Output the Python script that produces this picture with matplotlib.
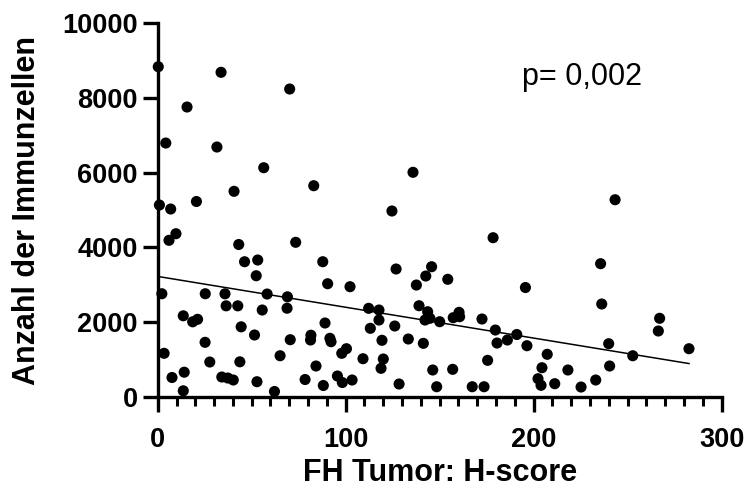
import numpy as np
import matplotlib
matplotlib.use("Agg")
import matplotlib.pyplot as plt
from matplotlib.ticker import MultipleLocator

plt.rcParams['font.family'] = ['Liberation Sans', 'DejaVu Sans']

h_score = [0.3, 33.7, 70.2, 15.6, 4.3, 31.5, 56.4, 83.0, 40.6, 20.6, 0.9, 6.9,
           135.8, 124.6, 178.4, 243.3, 6.0, 9.7, 43.1, 73.4, 46.2, 53.2, 52.4, 87.8,
           90.4, 2.2, 25.3, 35.8, 58.2, 69.0, 36.4, 42.6, 55.6, 68.8, 13.6, 18.6,
           21.2, 44.4, 51.5, 89.0, 81.5, 81.3, 91.6, 92.2, 70.5, 25.2, 3.4, 65.1,
           27.7, 43.7, 84.2, 7.6, 14.1, 34.1, 37.3, 40.2, 52.8, 78.4, 88.1, 95.6,
           98.2, 103.4, 13.6, 62.1, 97.9, 100.4, 126.8, 145.7, 142.6, 137.6, 154.3, 195.6,
           102.3, 112.2, 117.7, 117.7, 113.1, 126.1, 119.3, 139.0, 143.6, 142.2, 144.8, 150.0,
           157.2, 160.3, 160.6, 172.5, 179.6, 180.5, 186.0, 191.0, 196.4, 133.3, 141.3, 109.2,
           120.0, 118.8, 146.3, 156.9, 175.5, 128.4, 148.4, 167.3, 173.6, 235.6, 236.2, 267.0,
           266.3, 207.2, 239.9, 252.7, 282.6, 204.4, 218.2, 240.4, 202.3, 203.9, 211.2, 225.2,
           233.0]
immune_cells = [8838, 8688, 8241, 7759, 6795, 6688, 6134, 5652, 5502, 5229, 5135, 5028,
                6011, 4975, 4260, 5277, 4190, 4367, 4078, 4137, 3617, 3663, 3242, 3617,
                3028, 2760, 2760, 2758, 2752, 2677, 2436, 2436, 2324, 2372, 2169, 2008,
                2075, 1874, 1655, 1976, 1649, 1521, 1566, 1475, 1529, 1459, 1165, 1100,
                932, 937, 825, 517, 659, 530, 503, 450, 404, 463, 303, 557,
                383, 450, 161, 142, 1165, 1288, 3422, 3483, 3234, 2993, 3146, 2926,
                2948, 2369, 2324, 2056, 1834, 1896, 1513, 2439, 2278, 2056, 2102, 2011,
                2118, 2262, 2145, 2083, 1788, 1440, 1521, 1668, 1368, 1548, 1432, 1020,
                1012, 763, 718, 736, 977, 343, 270, 270, 270, 3564, 2485, 2102,
                1762, 1138, 1422, 1100, 1288, 779, 718, 825, 485, 308, 351, 262,
                450]

x_ticks = [0, 100, 200, 300]
y_ticks = [0, 2000, 4000, 6000, 8000, 10000]
p_text = "p= 0,002"

x = np.array(h_score)
y = np.array(immune_cells)

fig = plt.figure(figsize=(7.46, 4.93), dpi=100)
ax = fig.add_axes([0.2114, 0.1951, 0.7560, 0.7576])

ax.scatter(x, y, s=64, color='black', edgecolors='none', zorder=3, clip_on=False)

slope, intercept = np.polyfit(x, y, 1)
xl = np.array([x.min(), x.max()])
ax.plot(xl, intercept + slope * xl, color='black', lw=1.1, zorder=2)

ax.set_xlim(0, 300)
ax.set_ylim(0, 10000)
ax.set_xticks(x_ticks)
ax.set_yticks(y_ticks)
ax.xaxis.set_minor_locator(MultipleLocator(10))

for s in ['top', 'right']:
    ax.spines[s].set_visible(False)
for s in ['left', 'bottom']:
    ax.spines[s].set_linewidth(2.4)
    ax.spines[s].set_capstyle('projecting')

ax.tick_params(axis='both', which='major', length=11, width=2.4, labelsize=19.5)
ax.tick_params(axis='y', which='major', pad=3.5)
ax.tick_params(axis='x', which='major', pad=11)
ax.tick_params(axis='x', which='minor', length=6.5, width=2.2)
for lab in ax.get_xticklabels() + ax.get_yticklabels():
    lab.set_fontweight('bold')

ax.set_xlabel("FH Tumor: H-score", fontsize=22, fontweight='bold')
ax.set_ylabel("Anzahl der Immunzellen", fontsize=22, fontweight='bold')
ax.xaxis.set_label_coords(0.5, -0.163)
ax.yaxis.set_label_coords(-0.205, 0.5)

ax.text(0.646, 0.835, p_text, transform=ax.transAxes, fontsize=22,
        ha='left', va='baseline')

fig.savefig("out.png", dpi=100)
